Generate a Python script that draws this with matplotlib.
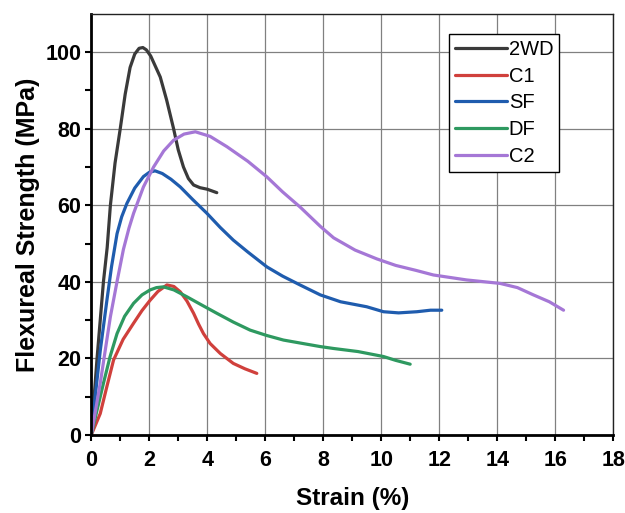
import matplotlib.pyplot as plt

plt.rcParams['font.family'] = ['Liberation Sans', 'DejaVu Sans']

# strain (%) and flexural strength (MPa)
wd_strain = [0, 0.1, 0.2, 0.42, 0.55, 0.66, 0.82, 1.0, 1.17, 1.34, 1.5, 1.65, 1.78, 1.9, 2.05, 2.2, 2.38, 2.6, 2.84, 3.0, 3.18, 3.35, 3.53, 3.75, 4.0, 4.33]
wd_stress = [0, 10, 20, 40, 49, 60, 71, 80, 89, 96, 99.5, 101, 101.2, 100.6, 99, 96.5, 93.5, 87.5, 80, 74.5, 70, 67, 65.3, 64.6, 64.2, 63.3]

c1_strain = [0, 0.31, 0.55, 0.77, 1.1, 1.46, 1.75, 2.03, 2.3, 2.61, 2.85, 3.07, 3.3, 3.53, 3.7, 3.87, 4.1, 4.45, 4.9, 5.3, 5.71]
c1_stress = [0, 5.6, 13, 19.6, 25, 29.2, 32.5, 35.2, 37.5, 39.2, 38.8, 37.4, 35, 31.8, 29, 26.5, 23.9, 21.3, 18.7, 17.3, 16.1]

sf_strain = [0, 0.15, 0.31, 0.54, 0.7, 0.89, 1.05, 1.23, 1.5, 1.8, 2.0, 2.2, 2.45, 2.75, 3.07, 3.5, 3.99, 4.45, 4.9, 5.4, 6.06, 6.6, 7.2, 7.9, 8.6, 9.5, 10.08, 10.6, 11.23, 11.7, 12.09]
sf_stress = [0, 11, 22, 35.2, 44, 52.6, 57, 60.5, 64.5, 67.5, 68.6, 69, 68.3, 66.8, 64.8, 61.5, 57.9, 54.2, 50.9, 47.8, 43.9, 41.5, 39.2, 36.6, 34.8, 33.5, 32.2, 31.9, 32.2, 32.6, 32.6]

df_strain = [0, 0.2, 0.42, 0.65, 0.89, 1.15, 1.46, 1.75, 2.03, 2.25, 2.49, 2.85, 3.3, 3.8, 4.33, 4.9, 5.48, 6.05, 6.63, 7.3, 7.9, 8.36, 9.2, 10.08, 10.5, 11.0]
df_stress = [0, 6.5, 13.5, 20.5, 26.5, 31, 34.4, 36.6, 37.9, 38.5, 38.7, 37.9, 36.1, 34, 31.8, 29.5, 27.4, 26, 24.8, 23.9, 23.1, 22.6, 21.8, 20.5, 19.5, 18.5]

c2_strain = [0, 0.15, 0.31, 0.48, 0.66, 0.9, 1.11, 1.3, 1.46, 1.8, 2.15, 2.5, 2.84, 3.2, 3.59, 4.1, 4.68, 5.4, 6.06, 6.6, 7.21, 7.9, 8.36, 9.1, 9.85, 10.5, 11.2, 11.8, 12.95, 14.1, 14.7, 15.25, 15.8, 16.29]
c2_stress = [0, 6.5, 13.5, 22, 30.9, 40.5, 48.5, 54, 57.9, 64.8, 70, 74.2, 77, 78.6, 79.2, 78, 75.3, 71.5, 67.4, 63.5, 59.5, 54.5, 51.5, 48.3, 46, 44.3, 43, 41.8, 40.5, 39.6, 38.5, 36.6, 34.8, 32.6]

series = [
    ('2WD', wd_strain, wd_stress, '#3a3a3a'),
    ('C1', c1_strain, c1_stress, '#d0403c'),
    ('SF', sf_strain, sf_stress, '#1f5cae'),
    ('DF', df_strain, df_stress, '#2e9960'),
    ('C2', c2_strain, c2_stress, '#a577d6'),
]

fig = plt.figure(figsize=(6.25, 5.13), dpi=100)
ax = fig.add_axes([0.146, 0.152, 0.835, 0.821])

for name, xs, ys, col in series:
    ax.plot(xs, ys, color=col, linewidth=2.3, label=name, solid_capstyle='round')

ax.set_xlim(0, 18)
ax.set_ylim(0, 110)
ax.set_xticks(range(0, 19, 2))
ax.set_yticks(range(0, 101, 20))
ax.set_xticks(range(1, 18, 2), minor=True)
ax.set_yticks(range(10, 110, 20), minor=True)
ax.grid(True, which='major', color='#808080', linewidth=0.9)
ax.set_axisbelow(True)

for side in ['left', 'bottom']:
    ax.spines[side].set_linewidth(2)
    ax.spines[side].set_color('black')
for side in ['top', 'right']:
    ax.spines[side].set_linewidth(1)
    ax.spines[side].set_color('#222222')

ax.tick_params(which='major', direction='out', length=4, width=1.5, labelsize=15.5)
ax.tick_params(which='minor', direction='out', length=4, width=1.5)
ax.tick_params(axis='x', which='major', pad=7)
ax.tick_params(axis='y', which='major', pad=3)
for lbl in ax.get_xticklabels() + ax.get_yticklabels():
    lbl.set_fontweight('bold')

ax.set_xlabel('Strain (%)', fontsize=17.5, fontweight='bold', labelpad=11)
ax.set_ylabel('Flexureal Strength (MPa)', fontsize=18, fontweight='bold', labelpad=4)

leg = ax.legend(loc='upper left', bbox_to_anchor=(0.686, 0.952), fontsize=14.5,
                handlelength=2.55, handletextpad=0.1, labelspacing=0.38,
                borderpad=0.3, borderaxespad=0, fancybox=False, framealpha=1)
leg.get_frame().set_edgecolor('black')
leg.get_frame().set_linewidth(1)

fig.savefig('out.png', dpi=100)
